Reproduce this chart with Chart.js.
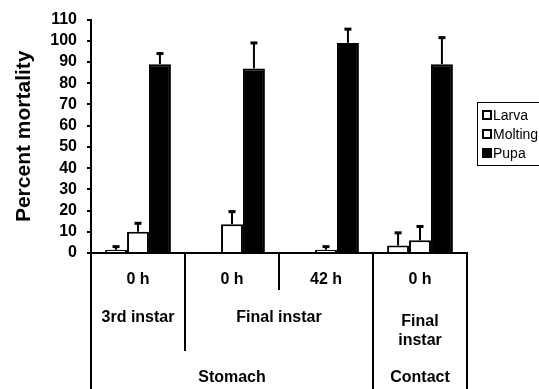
<!DOCTYPE html>
<html>
<head>
<meta charset="utf-8">
<script src="https://cdn.jsdelivr.net/npm/chart.js@4"></script>
<style>
  html, body { margin: 0; padding: 0; background: #fff; }
  #wrap { width: 539px; height: 389px; }
</style>
</head>
<body>
<div id="wrap"><canvas id="c" width="539" height="389"></canvas></div>
<script>
// ---- data ----
const timeLabels = ['0 h', '0 h', '42 h', '0 h'];
const stageGroups = [['3rd instar'], ['Final instar'], ['Final', 'instar']];
const stageSpans = [1, 2, 1];
const methodGroups = ['Stomach', 'Contact'];
const methodSpans = [3, 1];

const seriesNames = ['Larva', 'Molting', 'Pupa'];
const larva = [1.5, 0, 0, 3.5];
const molting = [10, 13.5, 1.5, 6];
const pupa = [89, 87, 99, 89];
const larvaErr = [1.5, 0, 0, 6];
const moltingErr = [4, 6, 1.5, 6.5];
const pupaErr = [5, 12, 6.5, 12.5];

const yMin = 0, yMax = 110, yStep = 10;

// ---- styles ----
const fillColors = ['#ffffff', '#ffffff', '#000000'];
const FONT = "'Liberation Sans', Arial, sans-serif";

const errorBars = {
  id: 'errorBars',
  afterDatasetsDraw(chart) {
    const ctx = chart.ctx;
    const y = chart.scales.y;
    chart.data.datasets.forEach((ds, di) => {
      const meta = chart.getDatasetMeta(di);
      meta.data.forEach((bar, i) => {
        const e = ds.errors[i];
        if (!e) return;
        const top = y.getPixelForValue(ds.data[i] + e);
        ctx.save();
        ctx.strokeStyle = '#000';
        ctx.lineWidth = 2;
        ctx.beginPath();
        ctx.moveTo(bar.x, bar.y);
        ctx.lineTo(bar.x, top);
        ctx.stroke();
        ctx.lineWidth = 3;
        ctx.beginPath();
        ctx.moveTo(bar.x - 3.5, top);
        ctx.lineTo(bar.x + 3.5, top);
        ctx.stroke();
        ctx.restore();
      });
    });
  }
};

const groupAxis = {
  id: 'groupAxis',
  afterDraw(chart) {
    const ctx = chart.ctx;
    const x = chart.scales.x;
    const area = chart.chartArea;
    const n = timeLabels.length;
    const bottom = chart.height;
    const yAxis = area.bottom;
    const edge = i => i <= 0 ? area.left : (i >= n ? area.right : (x.getPixelForValue(i - 1) + x.getPixelForValue(i)) / 2);
    const stageBounds = new Set(); let acc = 0;
    stageSpans.forEach(s => { acc += s; stageBounds.add(acc); });
    const methodBounds = new Set(); acc = 0;
    methodSpans.forEach(s => { acc += s; methodBounds.add(acc); });
    ctx.save();
    ctx.strokeStyle = '#000';
    ctx.lineWidth = 2;
    for (let i = 0; i <= n; i++) {
      let end;
      if (i === 0 || i === n || methodBounds.has(i)) end = bottom;
      else if (stageBounds.has(i)) end = yAxis + 98;
      else end = yAxis + 37;
      const px = Math.round(edge(i));
      ctx.beginPath();
      ctx.moveTo(px, yAxis - 1);
      ctx.lineTo(px, end);
      ctx.stroke();
    }
    ctx.fillStyle = '#000';
    ctx.textAlign = 'center';
    ctx.textBaseline = 'middle';
    ctx.font = 'bold 16px ' + FONT;
    let start = 0;
    stageGroups.forEach((lines, gi) => {
      const cx = (edge(start) + edge(start + stageSpans[gi])) / 2;
      if (lines.length === 1) {
        ctx.fillText(lines[0], cx, yAxis + 65);
      } else {
        lines.forEach((t, li) => ctx.fillText(t, cx, yAxis + 69 + li * 19));
      }
      start += stageSpans[gi];
    });
    start = 0;
    methodGroups.forEach((t, gi) => {
      const cx = (edge(start) + edge(start + methodSpans[gi])) / 2;
      ctx.fillText(t, cx, yAxis + 125);
      start += methodSpans[gi];
    });
    ctx.restore();
  }
};

const boxLegend = {
  id: 'boxLegend',
  afterDraw(chart) {
    const ctx = chart.ctx;
    const left = 477, top = 102, rowH = 19;
    const ds = chart.data.datasets;
    ctx.save();
    ctx.strokeStyle = '#000';
    ctx.lineWidth = 1;
    ctx.strokeRect(left + 0.5, top + 0.5, 80, ds.length * rowH + 6);
    ctx.font = '14px ' + FONT;
    ctx.textBaseline = 'middle';
    ctx.textAlign = 'left';
    ds.forEach((d, i) => {
      const cy = top + 13 + i * rowH;
      ctx.fillStyle = d.backgroundColor;
      ctx.fillRect(left + 6, cy - 4, 8, 8);
      ctx.lineWidth = 2;
      ctx.strokeRect(left + 6, cy - 4, 8, 8);
      ctx.fillStyle = '#000';
      ctx.fillText(d.label, left + 16, cy + 1);
    });
    ctx.restore();
  }
};

const values = [larva, molting, pupa];
const errs = [larvaErr, moltingErr, pupaErr];

new Chart(document.getElementById('c'), {
  type: 'bar',
  data: {
    labels: timeLabels,
    datasets: seriesNames.map((name, i) => ({
      label: name,
      data: values[i],
      errors: errs[i],
      backgroundColor: fillColors[i],
      borderColor: '#000',
      borderWidth: 2,
      categoryPercentage: 0.7,
      barPercentage: 1.0
    }))
  },
  options: {
    responsive: false,
    animation: false,
    devicePixelRatio: 1,
    layout: { padding: { top: 17, right: 72, left: 0, bottom: 0 } },
    plugins: { legend: { display: false }, tooltip: { enabled: false } },
    scales: {
      x: {
        grid: { display: false, drawTicks: false },
        border: { display: true, color: '#000', width: 2 },
        ticks: { color: '#000', font: { family: FONT, size: 16, weight: 'bold' }, padding: 17, maxRotation: 0, autoSkip: false },
        afterFit: s => { s.height = 136; }
      },
      y: {
        min: yMin, max: yMax,
        ticks: { stepSize: yStep, autoSkip: false, color: '#000', font: { family: FONT, size: 16, weight: 'bold' }, padding: 10 },
        grid: { drawOnChartArea: false, drawTicks: true, tickLength: 4, color: '#000', lineWidth: 2 },
        border: { display: true, color: '#000', width: 2 },
        title: { display: true, text: 'Percent mortality', color: '#000', font: { family: FONT, size: 21, weight: 'bold' }, padding: { top: 12, bottom: 0 } },
        afterFit: s => { s.width = 91; }
      }
    }
  },
  plugins: [errorBars, groupAxis, boxLegend]
});
</script>
</body>
</html>
